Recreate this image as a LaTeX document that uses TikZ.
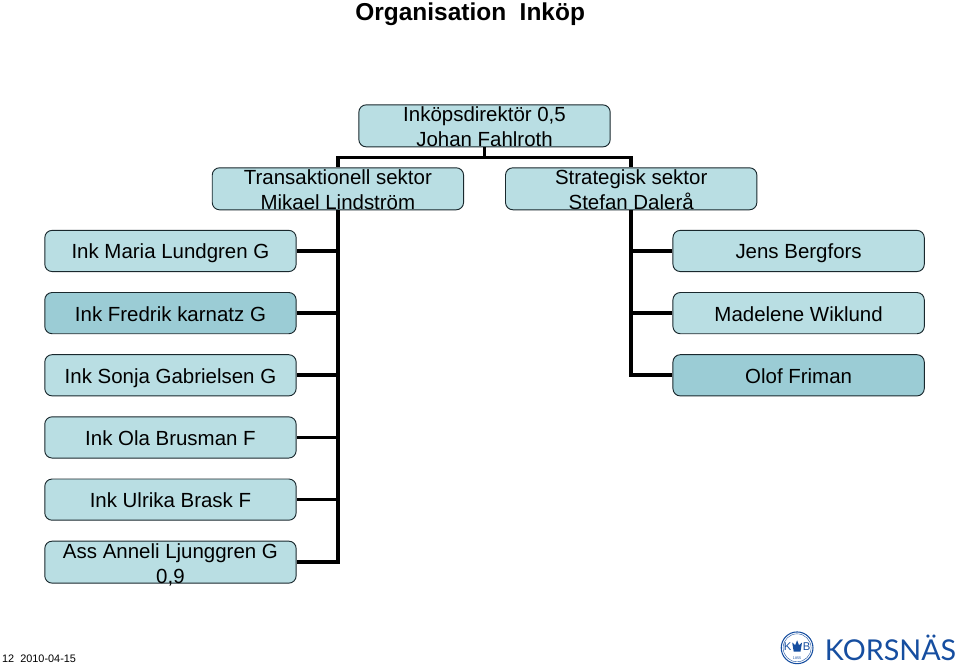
\documentclass[tikz,border=0pt]{standalone}
\usepackage{fontspec}
\setmainfont{Liberation Sans}
\newfontfamily\logofont{Lato}
\usetikzlibrary{positioning, calc}
\definecolor{boxfill}{RGB}{185,222,227}
\definecolor{boxdark}{RGB}{155,204,213}
\definecolor{boxedge}{RGB}{25,40,45}
\definecolor{logoblue}{RGB}{22,78,160}
\tikzset{
  orgbox/.style={rectangle, draw=boxedge, fill=boxfill, line width=0.7pt,
    minimum width=6.65cm, minimum height=1.09cm, rounded corners=5.5pt,
    inner sep=0pt, align=center, font=\fontsize{15.4}{18.75}\selectfont,
    text height=15pt, text depth=3pt},
  twoline/.style={orgbox, text height=31.6pt, text depth=-0.8pt},
  darkbox/.style={orgbox, fill=boxdark},
  conn/.style={line width=2.7pt, color=black}
}
\begin{document}
\begin{tikzpicture}
  \useasboundingbox (0,0) rectangle (25.4,-17.648);

  \node[font=\bfseries\fontsize{18.4}{22}\selectfont] (title) at (12.44,-0.38) {Organisation\ \ Inköp};

  \node[twoline] (root) at (12.82,-3.33) {Inköpsdirektör 0,5\\Johan Fahlroth};
  \node[twoline, below=0.53cm of root, xshift=-3.88cm] (trans) {Transaktionell sektor\\Mikael Lindström};
  \node[twoline, below=0.53cm of root, xshift=3.88cm] (strat) {Strategisk sektor\\Stefan Dalerå};

  \node[orgbox, below=0.52cm of trans, xshift=-4.43cm] (maria) {Ink Maria Lundgren G};
  \node[darkbox, below=0.53cm of maria] (fredrik) {Ink Fredrik karnatz G};
  \node[orgbox, below=0.53cm of fredrik] (sonja) {Ink Sonja Gabrielsen G};
  \node[orgbox, below=0.53cm of sonja] (ola) {Ink Ola Brusman F};
  \node[orgbox, below=0.53cm of ola] (ulrika) {Ink Ulrika Brask F};
  \node[twoline, below=0.53cm of ulrika] (anneli) {Ass Anneli Ljunggren G\\0,9};

  \node[orgbox, below=0.52cm of strat, xshift=4.43cm] (jens) {Jens Bergfors};
  \node[orgbox, below=0.53cm of jens] (madelene) {Madelene Wiklund};
  \node[darkbox, below=0.53cm of madelene] (olof) {Olof Friman};

  % Connections
  \draw[conn] (root.south) -- ++(0,-0.27) -| (trans.north);
  \draw[conn] (root.south) -- ++(0,-0.27) -| (strat.north);
  \foreach \n in {maria, fredrik, sonja, ola, ulrika, anneli}
    \draw[conn] (trans.south) |- (\n.east);
  \foreach \n in {jens, madelene, olof}
    \draw[conn] (strat.south) |- (\n.west);

  % Footer
  \node[font=\fontsize{8.2}{10}\selectfont, anchor=west, inner sep=0pt] (stamp) at (0.05,-17.43) {12\ \ 2010-04-15};

  % Logo
  \node[circle, draw=logoblue, line width=0.8pt, minimum size=0.84cm, inner sep=0pt] (seal) at (21.09,-17.14) {};
  \node[circle, draw=logoblue, line width=0.3pt, minimum size=0.74cm, inner sep=0pt] (sealin) at (seal) {};
  \node[text=logoblue, font=\fontsize{8.5}{10}\selectfont, inner sep=0pt] (sealk) at ($(seal)+(-0.25,0.03)$) {K};
  \node[text=logoblue, font=\fontsize{8.5}{10}\selectfont, inner sep=0pt] (sealb) at ($(seal)+(0.25,0.03)$) {B};
  \node[text=logoblue, font=\fontsize{2.8}{3}\selectfont, inner sep=0pt] (sealyear) at ($(seal)+(0,-0.27)$) {1855};
  \fill[logoblue] ($(seal)+(-0.09,-0.1)$) -- ++(-0.04,0.24) -- ++(0.08,-0.07) -- ++(0.05,0.13) -- ++(0.05,-0.13) -- ++(0.08,0.07) -- ++(-0.04,-0.24) -- cycle;
  \node[text=logoblue, font=\logofont\fontsize{21.6}{24}\selectfont, anchor=west, inner sep=0pt] (logotext) at (21.82,-17.14) {KORSNÄS};
\end{tikzpicture}
\end{document}
